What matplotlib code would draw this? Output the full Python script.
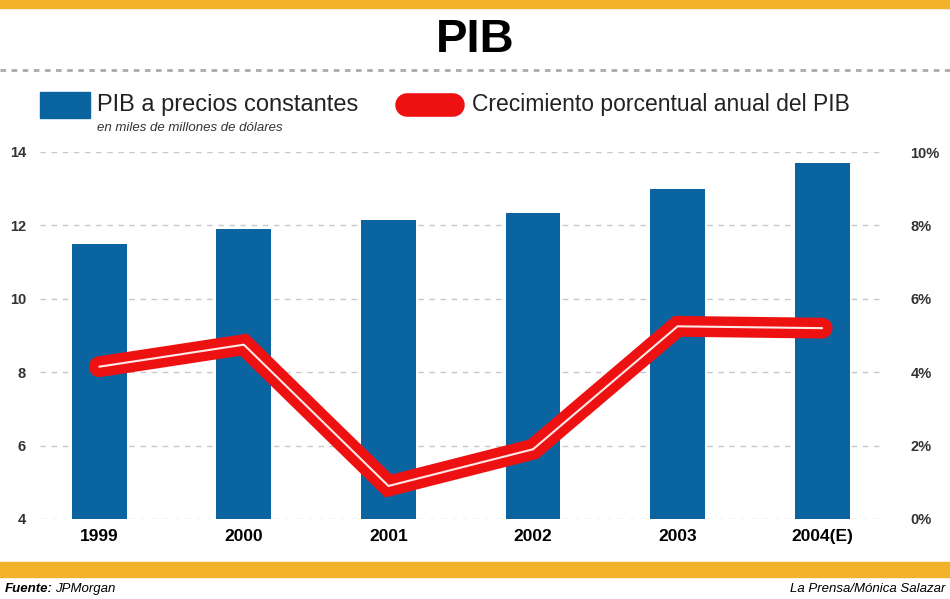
import matplotlib
matplotlib.use("Agg")
import matplotlib.pyplot as plt
from matplotlib.lines import Line2D
from matplotlib.patches import Rectangle

plt.rcParams['font.family'] = ['Liberation Sans Narrow', 'Liberation Sans', 'DejaVu Sans']

years = ["1999", "2000", "2001", "2002", "2003", "2004(E)"]
pib = [11.5, 11.9, 12.15, 12.35, 13.0, 13.7]
growth = [4.15, 4.75, 0.9, 1.9, 5.25, 5.2]
left_ticks = [4, 6, 8, 10, 12, 14]
right_ticks = [0, 2, 4, 6, 8, 10]
right_labels = ["0%", "2%", "4%", "6%", "8%", "10%"]

BLUE = "#0a64a0"
RED = "#ee1111"
ORANGE = "#f2b22a"

fig = plt.figure(figsize=(9.5, 5.99), dpi=100)
W, H = 950, 599

def fx(px):
    return px / W

def fy(py):
    return 1 - py / H

ax = fig.add_axes([fx(40), fy(519), fx(880) - fx(40), fy(152) - fy(519)])
x = list(range(len(years)))
ax.bar(x, pib, width=0.38, color=BLUE, zorder=2)
ax.set_xlim(-0.41, 5.40)
ax.set_ylim(4, 14)
ax.set_yticks(left_ticks)
ax.set_yticklabels([str(t) for t in left_ticks], fontsize=10.5, fontweight='bold', color='#333333')
ax.set_xticks(x)
ax.set_xticklabels(years, fontsize=12.5, fontweight='bold')
ax.tick_params(axis='both', length=0)
ax.tick_params(axis='y', pad=10)
ax.tick_params(axis='x', pad=7)
ax.grid(axis='y', color='#c8c8c8', linestyle=(0, (4, 4)), linewidth=1, zorder=0)
for s in ax.spines.values():
    s.set_visible(False)

ax2 = ax.twinx()
ax2.set_ylim(0, 10)
ax2.set_yticks(right_ticks)
ax2.set_yticklabels(right_labels, fontsize=10.5, fontweight='bold', color='#333333')
ax2.tick_params(axis='y', length=0, pad=22)
for s in ax2.spines.values():
    s.set_visible(False)
ax2.plot(x, growth, color=RED, linewidth=15, solid_capstyle='round', solid_joinstyle='miter', zorder=3)
ax2.plot(x, growth, color='#ffe8e8', linewidth=1.5, solid_capstyle='round', zorder=4)

# decorations
fig.patches.append(Rectangle((0, fy(8)), 1, fy(0) - fy(8), transform=fig.transFigure, color=ORANGE, zorder=0))
fig.patches.append(Rectangle((0, fy(577)), 1, fy(562) - fy(577), transform=fig.transFigure, color=ORANGE, zorder=0))
fig.add_artist(Line2D([0, 1], [fy(70), fy(70)], transform=fig.transFigure, color='#aaaaaa',
                      linestyle=(0, (2, 2)), linewidth=2))

fig.text(0.5, fy(40), "PIB", ha='center', va='center', fontsize=34, fontweight='bold')

# legend
fig.patches.append(Rectangle((fx(40), fy(118)), fx(90) - fx(40), fy(92) - fy(118), transform=fig.transFigure,
                             color=BLUE))
fig.text(fx(97), fy(105), "PIB a precios constantes", ha='left', va='center', fontsize=17, color='#222222')
fig.text(fx(97), fy(128), "en miles de millones de dólares", ha='left', va='center', fontsize=9.5,
         style='italic', color='#333333')
fig.add_artist(Line2D([fx(407), fx(453)], [fy(105), fy(105)], transform=fig.transFigure, color=RED,
                      linewidth=17, solid_capstyle='round'))
fig.text(fx(472), fy(105), "Crecimiento porcentual anual del PIB", ha='left', va='center', fontsize=16.5,
         color='#222222')

# footer
fig.text(fx(5), fy(589), "Fuente:", ha='left', va='center', fontsize=9.5, fontweight='bold', style='italic')
fig.text(fx(55), fy(589), "JPMorgan", ha='left', va='center', fontsize=9.5, style='italic')
fig.text(fx(945), fy(589), "La Prensa/Mónica Salazar", ha='right', va='center', fontsize=9.5, style='italic')

fig.savefig("out.png", dpi=100)
